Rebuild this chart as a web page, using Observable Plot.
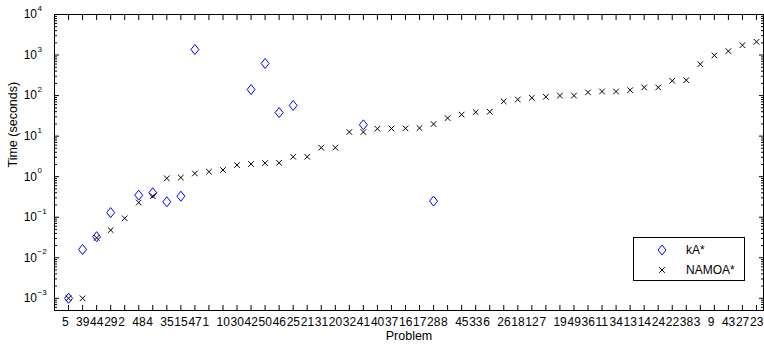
<!DOCTYPE html>
<html>
<head>
<meta charset="utf-8">
<script src="https://cdn.jsdelivr.net/npm/d3@7"></script>
<script src="https://cdn.jsdelivr.net/npm/@observablehq/plot@0.6"></script>
<style>
  html, body { margin: 0; padding: 0; background: #fff; }
  #chart { position: relative; width: 764px; height: 346px; font-family: "Liberation Sans", Arial, Helvetica, sans-serif; }
  #chart svg { display: block; }
  .legend { position: absolute; left: 633px; top: 237px; width: 110px; height: 42px; border: 1px solid #000; background: #fff; font-size: 12px; }
  .legend .item { position: absolute; left: 0; height: 20px; width: 100%; }
  .legend .item svg { position: absolute; left: 20px; top: 1px; }
  .legend .item span { position: absolute; left: 52px; top: 3px; line-height: 14px; white-space: nowrap; }
</style>
</head>
<body>
<div id="chart"></div>
<script>
// Problem identifiers, in the order they appear along the x axis (sorted by NAMOA* time)
const problems = [5, 39, 44, 29, 2, 48, 4, 35, 15, 47, 1, 10, 30, 42, 50, 46, 25, 21, 31, 20,
                  32, 41, 40, 37, 16, 17, 28, 8, 45, 33, 6, 26, 18, 12, 7, 19, 49, 36, 11, 34,
                  13, 14, 24, 22, 38, 3, 9, 43, 27, 23];

// NAMOA* solution time (seconds) for each problem
const namoaTimes = [0.001, 0.001, 0.031, 0.048, 0.094, 0.23, 0.33, 0.91, 0.95, 1.2,
                    1.33, 1.46, 1.93, 2.05, 2.16, 2.2, 3.1, 3.1, 5.2, 5.2,
                    12.6, 12.6, 15.2, 15.4, 15.6, 15.8, 19.8, 27.8, 34, 39,
                    40, 72, 80, 88, 93, 100, 100, 120, 126, 126,
                    136, 159, 159, 232, 240, 596, 980, 1250, 1750, 2120];

// kA* solution time (seconds); null where kA* has no result
const kaTimes = [0.001, 0.016, 0.033, 0.13, null, 0.35, 0.40, 0.24, 0.33, 1370,
                 null, null, null, 141, 620, 38, 57, null, null, null,
                 null, 19, null, null, null, null, 0.25, null, null, null,
                 null, null, null, null, null, null, null, null, null, null,
                 null, null, null, null, null, null, null, null, null, null];

const seriesNames = ["kA*", "NAMOA*"];
const seriesColors = ["#0000ff", "#000000"];

// Log axis decades shown with labels
const decades = [-3, -2, -1, 0, 1, 2, 3, 4];
const yDomain = [5e-4, 1e4];

// Marker shapes: a slightly tall diamond and a diagonal cross
const diamondSymbol = {
  draw(ctx, size) {
    const r = Math.sqrt(size / Math.PI);
    const w = r * 0.8;
    ctx.moveTo(0, -r); ctx.lineTo(w, 0); ctx.lineTo(0, r); ctx.lineTo(-w, 0); ctx.closePath();
  }
};
const crossSymbol = {
  draw(ctx, size) {
    const r = Math.sqrt(size / Math.PI);
    ctx.moveTo(-r, -r); ctx.lineTo(r, r);
    ctx.moveTo(r, -r); ctx.lineTo(-r, r);
  }
};
const seriesSymbols = [diamondSymbol, crossSymbol];
const seriesRadius = [5, 2.8];

const rows = problems.map((p, i) => ({pos: i + 1, problem: p, ka: kaTimes[i], namoa: namoaTimes[i]}));
const xTicks = rows.map(d => d.pos);
const majorY = decades.map(k => Math.pow(10, k));
const minorY = [];
for (let k = -4; k < 4; k++) {
  for (let m = 2; m <= 9; m++) {
    const v = m * Math.pow(10, k);
    if (v >= yDomain[0] && v <= yDomain[1]) minorY.push(v);
  }
}
const expText = v => {
  const e = Math.round(Math.log10(v));
  return e < 0 ? "\u2212" + (-e) : String(e);
};

const font = '"Liberation Sans", Arial, Helvetica, sans-serif';

const chart = Plot.plot({
  width: 764,
  height: 346,
  marginLeft: 54,
  marginRight: 1,
  marginTop: 14,
  marginBottom: 36,
  style: {fontFamily: font, fontSize: "12px", color: "#000", background: "#fff"},
  x: {type: "linear", domain: [0, problems.length + 0.5]},
  y: {type: "log", domain: yDomain},
  marks: [
    // x axis: labels in two-character slots (left-aligned), inward ticks at bottom and top
    Plot.axisX({anchor: "bottom", ticks: xTicks, tickSize: 0, tickPadding: 7, textAnchor: "start", dx: -6.5, tickFormat: i => String(problems[i - 1]), label: null}),
    Plot.axisX({anchor: "bottom", ticks: xTicks, tickSize: -5, fill: "none", label: null}),
    Plot.axisX({anchor: "top", ticks: xTicks, tickSize: -5, fill: "none", label: null}),
    // y axis: "10" with raised exponent, inward major and minor ticks on both sides
    Plot.axisY({anchor: "left", ticks: majorY, tickSize: 0, tickPadding: 17.5, tickFormat: () => "10", label: null}),
    Plot.axisY({anchor: "left", ticks: majorY, tickSize: 0, tickPadding: 17, textAnchor: "start", dy: -6, fontSize: 8, tickFormat: expText, label: null}),
    Plot.axisY({anchor: "left", ticks: majorY, tickSize: -5, fill: "none", label: null}),
    Plot.axisY({anchor: "left", ticks: minorY, tickSize: -3, fill: "none", label: null}),
    Plot.axisY({anchor: "right", ticks: majorY, tickSize: -5, fill: "none", label: null}),
    Plot.axisY({anchor: "right", ticks: minorY, tickSize: -3, fill: "none", label: null}),
    Plot.frame({stroke: "#000", strokeWidth: 1}),
    // axis titles
    Plot.text(["Problem"], {frameAnchor: "bottom", lineAnchor: "top", dy: 20.5, fontSize: 12.5}),
    Plot.text(["Time (seconds)"], {frameAnchor: "left", rotate: -90, dx: -42, dy: 5, fontSize: 12.5}),
    // data
    Plot.dot(rows, {x: "pos", y: "ka", symbol: seriesSymbols[0], r: seriesRadius[0], stroke: seriesColors[0], fill: "none", strokeWidth: 1}),
    Plot.dot(rows, {x: "pos", y: "namoa", symbol: seriesSymbols[1], r: seriesRadius[1], stroke: seriesColors[1], fill: "none", strokeWidth: 1})
  ]
});

const container = document.getElementById("chart");
container.appendChild(chart);

// Legend box inside the plot area, lower right
const legend = document.createElement("div");
legend.className = "legend";
seriesNames.forEach((name, i) => {
  const item = document.createElement("div");
  item.className = "item";
  item.style.top = (2 + i * 20) + "px";
  const sw = d3.create("svg").attr("width", 16).attr("height", 18);
  const p = d3.path();
  seriesSymbols[i].draw(p, Math.PI * seriesRadius[i] * seriesRadius[i]);
  sw.append("path")
    .attr("transform", "translate(8,9)")
    .attr("d", p.toString())
    .attr("fill", "none")
    .attr("stroke", seriesColors[i])
    .attr("stroke-width", 1);
  item.appendChild(sw.node());
  const label = document.createElement("span");
  label.textContent = name;
  item.appendChild(label);
  legend.appendChild(item);
});
container.appendChild(legend);
</script>
</body>
</html>
